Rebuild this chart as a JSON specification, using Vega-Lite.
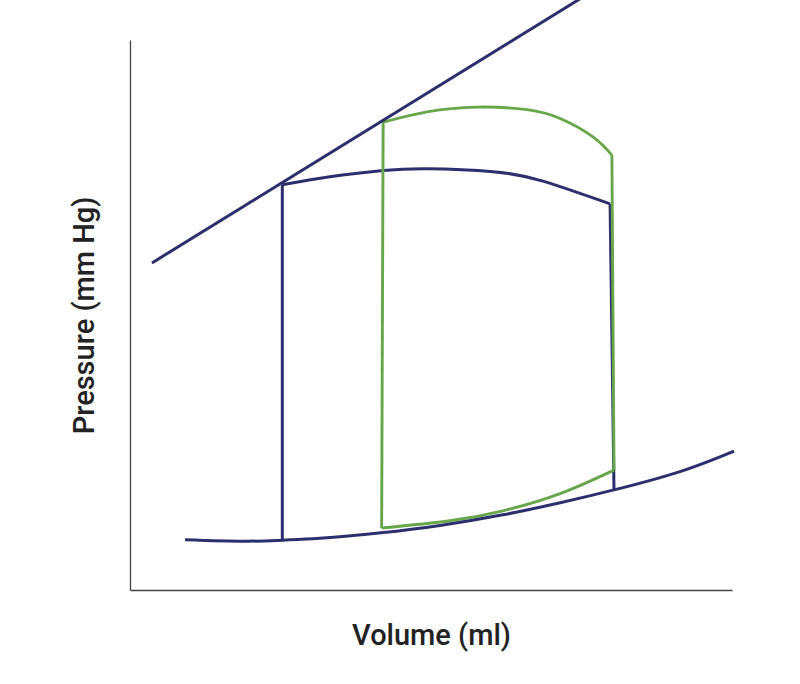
{
  "$schema": "https://vega.github.io/schema/vega-lite/v6.json",
  "autosize": {"type": "none"},
  "padding": {"left": 130, "top": 40, "right": 68, "bottom": 94},
  "width": 602,
  "height": 550,
  "background": "white",
  "datasets": {
    "relations": [
      {"curve": "espvr", "v": 7.3, "p": 89.2},
      {"curve": "espvr", "v": 152.8, "p": 162.9},
      {"curve": "edpvr", "v": 18.3, "p": 13.7},
      {"curve": "edpvr", "v": 37.9, "p": 13.3},
      {"curve": "edpvr", "v": 50.8, "p": 13.6},
      {"curve": "edpvr", "v": 63.1, "p": 14.1},
      {"curve": "edpvr", "v": 83.4, "p": 15.6},
      {"curve": "edpvr", "v": 103.0, "p": 17.6},
      {"curve": "edpvr", "v": 123.9, "p": 20.5},
      {"curve": "edpvr", "v": 142.9, "p": 23.8},
      {"curve": "edpvr", "v": 160.8, "p": 27.3},
      {"curve": "edpvr", "v": 182.7, "p": 32.3},
      {"curve": "edpvr", "v": 200.7, "p": 37.9}
    ],
    "baseline": [
      {"seg": "top", "v": 50.6, "p": 110.5},
      {"seg": "top", "v": 66.4, "p": 112.7},
      {"seg": "top", "v": 84.1, "p": 114.4},
      {"seg": "top", "v": 98.7, "p": 114.9},
      {"seg": "top", "v": 120.6, "p": 114.1},
      {"seg": "top", "v": 137.2, "p": 111.5},
      {"seg": "top", "v": 159.5, "p": 105.3},
      {"seg": "right", "v": 159.5, "p": 105.3},
      {"seg": "right", "v": 160.8, "p": 27.3},
      {"seg": "left", "v": 50.6, "p": 13.6},
      {"seg": "left", "v": 50.6, "p": 110.5}
    ],
    "inotrope": [
      {"seg": "left", "v": 83.6, "p": 16.9},
      {"seg": "left", "v": 84.1, "p": 127.6},
      {"seg": "top", "v": 84.1, "p": 127.6},
      {"seg": "top", "v": 98.7, "p": 130.4},
      {"seg": "top", "v": 115.3, "p": 131.7},
      {"seg": "top", "v": 131.9, "p": 131.0},
      {"seg": "top", "v": 142.9, "p": 128.6},
      {"seg": "top", "v": 153.8, "p": 123.6},
      {"seg": "top", "v": 160.1, "p": 118.6},
      {"seg": "right", "v": 160.1, "p": 118.6},
      {"seg": "right", "v": 160.8, "p": 32.7},
      {"seg": "bottom", "v": 83.6, "p": 16.9},
      {"seg": "bottom", "v": 106.3, "p": 18.9},
      {"seg": "bottom", "v": 123.9, "p": 21.6},
      {"seg": "bottom", "v": 142.9, "p": 26.3},
      {"seg": "bottom", "v": 160.8, "p": 32.7}
    ]
  },
  "encoding": {
    "x": {
      "field": "v",
      "type": "quantitative",
      "title": "Volume (ml)",
      "scale": {"domain": [0, 200], "nice": false, "zero": false}
    },
    "y": {
      "field": "p",
      "type": "quantitative",
      "title": "Pressure (mm Hg)",
      "scale": {"domain": [0, 150], "nice": false, "zero": false}
    }
  },
  "layer": [
    {
      "data": {"name": "baseline"},
      "mark": {"type": "line", "color": "#2b2f6d", "strokeWidth": 3, "interpolate": "natural", "clip": false},
      "encoding": {"detail": {"field": "seg"}}
    },
    {
      "data": {"name": "inotrope"},
      "mark": {"type": "line", "color": "#68a64c", "strokeWidth": 2.9, "interpolate": "natural", "clip": false},
      "encoding": {"detail": {"field": "seg"}}
    },
    {
      "data": {"name": "relations"},
      "mark": {"type": "line", "color": "#2b2f6d", "strokeWidth": 3, "interpolate": "natural", "clip": false},
      "encoding": {"detail": {"field": "curve"}}
    }
  ],
  "config": {
    "view": {"stroke": null},
    "axis": {
      "grid": false,
      "ticks": false,
      "labels": false,
      "domainColor": "#444444",
      "domainWidth": 1.3,
      "titleFont": "Roboto",
      "titleFontSize": 29,
      "titleFontWeight": 500,
      "titleColor": "#222222",
      "titlePadding": 31
    }
  }
}
